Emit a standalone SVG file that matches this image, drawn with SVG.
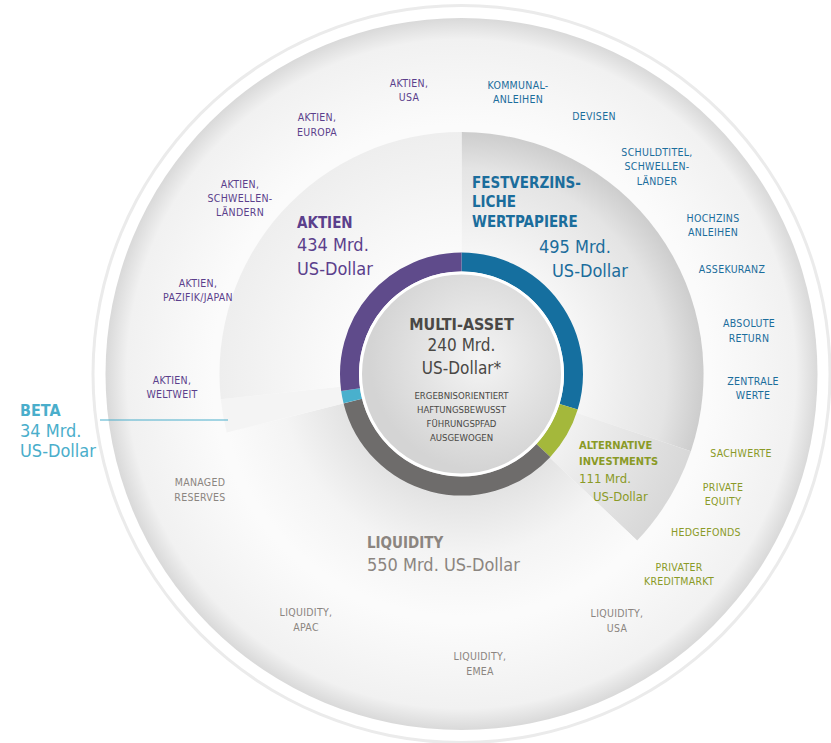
<svg xmlns="http://www.w3.org/2000/svg" width="831" height="743" viewBox="0 0 831 743">
<defs>
<radialGradient id="outer" cx="461.5" cy="374" r="356" gradientUnits="userSpaceOnUse"><stop offset="0.7" stop-color="#fbfbfb"/><stop offset="0.94" stop-color="#f1f1f1"/><stop offset="1" stop-color="#d9d9d9"/></radialGradient>
<radialGradient id="gF" cx="461.5" cy="374" r="242" gradientUnits="userSpaceOnUse"><stop offset="0.4" stop-color="#fbfbfb"/><stop offset="0.85" stop-color="#e4e4e4"/><stop offset="1" stop-color="#cdcdcd"/></radialGradient>
<radialGradient id="gA" cx="461.5" cy="374" r="242" gradientUnits="userSpaceOnUse"><stop offset="0.4" stop-color="#fdfdfd"/><stop offset="1" stop-color="#eeeeee"/></radialGradient>
<radialGradient id="gL" cx="461.5" cy="374" r="242" gradientUnits="userSpaceOnUse"><stop offset="0.4" stop-color="#dcdcdc"/><stop offset="0.75" stop-color="#f4f4f4"/><stop offset="1" stop-color="#fbfbfb"/></radialGradient>
<radialGradient id="gAlt" cx="461.5" cy="374" r="242" gradientUnits="userSpaceOnUse"><stop offset="0.4" stop-color="#f6f6f6"/><stop offset="1" stop-color="#d8d8d8"/></radialGradient>
<radialGradient id="gC" cx="480" cy="360" r="110" gradientUnits="userSpaceOnUse"><stop offset="0" stop-color="#f4f4f4"/><stop offset="1" stop-color="#d4d4d4"/></radialGradient>
</defs>
<style>
text{font-family:"DejaVu Sans Condensed","Liberation Sans",sans-serif}
.s{font-size:10.5px;text-anchor:middle;letter-spacing:0.3px}
.p{fill:#5b3f8c}.b{fill:#1b6d9c}.g{fill:#8a9a26}.y{fill:#8b8580}.c{fill:#4aaecb}
.bd{font-weight:bold}
.ring{fill:none;stroke-width:19}
</style>
<g id="background">
<circle cx="461.5" cy="374" r="370" fill="#ebebeb"/>
<circle cx="461.5" cy="374" r="367" fill="#ffffff"/>
<circle cx="461.5" cy="374" r="356" fill="url(#outer)"/>
</g>
<g id="sectors">
<path d="M461.5,374 L461.5,132 A242,242 0 0,1 690.9,451.2 Z" fill="url(#gF)"/>
<path d="M461.5,374 L690.9,451.2 A242,242 0 0,1 637.1,540.6 Z" fill="url(#gAlt)"/>
<path d="M461.5,374 L637.1,540.6 A242,242 0 0,1 226.7,432.5 Z" fill="url(#gL)"/>
<path d="M461.5,374 L226.7,432.5 A242,242 0 0,1 220.8,399.3 Z" fill="#f4f4f4"/>
<path d="M461.5,374 L220.8,399.3 A242,242 0 0,1 461.5,132 Z" fill="url(#gA)"/>
</g>
<g id="connectors">
<line x1="100" y1="420" x2="228" y2="420" stroke="#4aaecb" stroke-width="1"/>
</g>
<g id="ring">
<path class="ring" stroke="#156f9f" d="M461.5,262 A112,112 0 0,1 568.6,406.7"/>
<path class="ring" stroke="#a4b83b" d="M568.6,406.7 A112,112 0 0,1 543.4,450.4"/>
<path class="ring" stroke="#6e6c6b" d="M543.4,450.4 A112,112 0 0,1 352.8,401.1"/>
<path class="ring" stroke="#49b0cd" d="M352.8,401.1 A112,112 0 0,1 350.6,389.6"/>
<path class="ring" stroke="#5f4b8b" d="M350.6,389.6 A112,112 0 0,1 461.5,262"/>
</g>
<g id="center">
<circle cx="461.5" cy="374" r="101" fill="url(#gC)" stroke="#ffffff" stroke-width="3"/>
<text x="461.5" y="330" font-size="16" class="bd" fill="#4a4845" text-anchor="middle">MULTI-ASSET</text>
<text x="461.5" y="351" font-size="17" fill="#4a4845" text-anchor="middle">240 Mrd.</text>
<text x="461.5" y="374" font-size="17" fill="#4a4845" text-anchor="middle">US-Dollar*</text>
<g font-size="9.5" fill="#4a4845" text-anchor="middle">
<text x="461.5" y="399">ERGEBNISORIENTIERT</text>
<text x="461.5" y="413">HAFTUNGSBEWUSST</text>
<text x="461.5" y="427">FÜHRUNGSPFAD</text>
<text x="461.5" y="441">AUSGEWOGEN</text>
</g>
</g>
<g id="aktien">
<text x="297" y="228" font-size="15" class="p bd">AKTIEN</text>
<text x="297" y="251" font-size="18" class="p">434 Mrd.</text>
<text x="297" y="275" font-size="18" class="p">US-Dollar</text>
<text class="s p" x="409" y="87">AKTIEN,</text><text class="s p" x="409" y="101">USA</text>
<text class="s p" x="317" y="121">AKTIEN,</text><text class="s p" x="317" y="136">EUROPA</text>
<text class="s p" x="240" y="188">AKTIEN,</text><text class="s p" x="240" y="202">SCHWELLEN-</text><text class="s p" x="240" y="216">LÄNDERN</text>
<text class="s p" x="198" y="287">AKTIEN,</text><text class="s p" x="198" y="301">PAZIFIK/JAPAN</text>
<text class="s p" x="172" y="384">AKTIEN,</text><text class="s p" x="172" y="398">WELTWEIT</text>
</g>
<g id="festverzinsliche">
<text x="472" y="188" font-size="15" class="b bd">FESTVERZINS-</text>
<text x="472" y="207" font-size="15" class="b bd">LICHE</text>
<text x="472" y="227" font-size="15" class="b bd">WERTPAPIERE</text>
<text x="539" y="253" font-size="18" class="b">495 Mrd.</text>
<text x="552" y="277" font-size="18" class="b">US-Dollar</text>
<text class="s b" x="518" y="89">KOMMUNAL-</text><text class="s b" x="518" y="103">ANLEIHEN</text>
<text class="s b" x="594" y="120">DEVISEN</text>
<text class="s b" x="657" y="156">SCHULDTITEL,</text><text class="s b" x="657" y="170">SCHWELLEN-</text><text class="s b" x="657" y="185">LÄNDER</text>
<text class="s b" x="713" y="222">HOCHZINS</text><text class="s b" x="713" y="236">ANLEIHEN</text>
<text class="s b" x="732" y="273">ASSEKURANZ</text>
<text class="s b" x="749" y="327">ABSOLUTE</text><text class="s b" x="749" y="342">RETURN</text>
<text class="s b" x="753" y="385">ZENTRALE</text><text class="s b" x="753" y="399">WERTE</text>
</g>
<g id="alternative">
<text x="579" y="449" font-size="11" class="g bd">ALTERNATIVE</text>
<text x="579" y="465" font-size="11" class="g bd">INVESTMENTS</text>
<text x="579" y="483" font-size="13" class="g">111 Mrd.</text>
<text x="593" y="501" font-size="13" class="g">US-Dollar</text>
<text class="s g" x="741" y="457">SACHWERTE</text>
<text class="s g" x="723" y="491">PRIVATE</text><text class="s g" x="723" y="505">EQUITY</text>
<text class="s g" x="706" y="536">HEDGEFONDS</text>
<text class="s g" x="679" y="571">PRIVATER</text><text class="s g" x="679" y="585">KREDITMARKT</text>
</g>
<g id="liquidity">
<text x="367" y="548" font-size="15" class="y bd">LIQUIDITY</text>
<text x="367" y="571" font-size="18" class="y">550 Mrd. US-Dollar</text>
<text class="s y" x="617" y="617">LIQUIDITY,</text><text class="s y" x="617" y="632">USA</text>
<text class="s y" x="480" y="660">LIQUIDITY,</text><text class="s y" x="480" y="675">EMEA</text>
<text class="s y" x="306" y="616">LIQUIDITY,</text><text class="s y" x="306" y="631">APAC</text>
<text class="s y" x="200" y="486">MANAGED</text><text class="s y" x="200" y="501">RESERVES</text>
</g>
<g id="beta">
<text x="20" y="416" font-size="16" class="c bd">BETA</text>
<text x="20" y="437" font-size="18" class="c">34 Mrd.</text>
<text x="20" y="457" font-size="18" class="c">US-Dollar</text>
</g>
</svg>
